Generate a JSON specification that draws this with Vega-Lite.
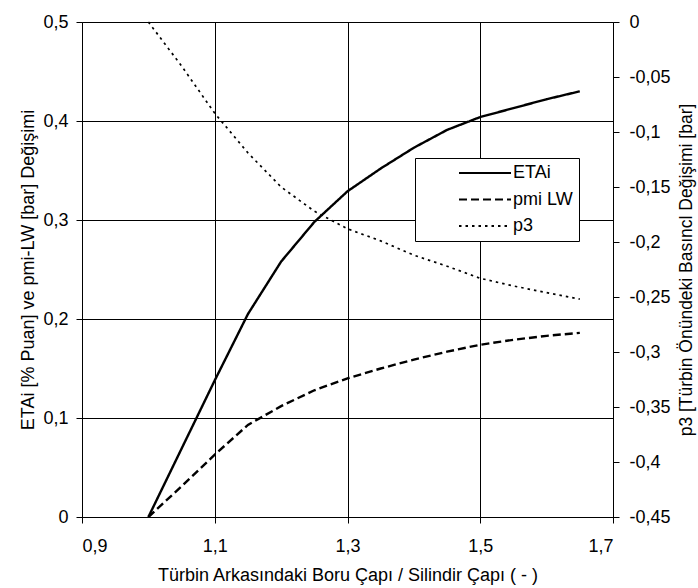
{
  "$schema": "https://vega.github.io/schema/vega-lite/v6.json",
  "width": 531,
  "height": 495,
  "autosize": {"type": "none"},
  "padding": {"left": 82, "top": 22, "right": 85, "bottom": 71},
  "background": "white",
  "config": {
    "view": {"stroke": null},
    "font": "Liberation Sans",
    "axis": {
      "labelFont": "Liberation Sans",
      "labelFontSize": 18,
      "labelColor": "#000",
      "titleFont": "Liberation Sans",
      "titleFontSize": 18,
      "titleFontWeight": "normal",
      "titleColor": "#000",
      "domainColor": "#000",
      "tickColor": "#000",
      "gridColor": "#000",
      "gridOpacity": 1,
      "tickSize": 6,
      "domainWidth": 1,
      "tickWidth": 1,
      "gridWidth": 1
    },
    "legend": {
      "orient": "none",
      "legendX": 333,
      "legendY": 136,
      "strokeColor": "#000",
      "fillColor": "#fff",
      "padding": 6,
      "symbolOffset": 55,
      "labelOffset": 19,
      "rowPadding": 8.5,
      "labelFont": "Liberation Sans",
      "labelFontSize": 18,
      "labelColor": "#000",
      "symbolType": "M-5.2,0H5.2",
      "symbolSize": 100,
      "symbolStrokeColor": "#000",
      "symbolFillColor": "transparent",
      "symbolStrokeWidth": 2.2
    }
  },
  "data": {
    "values": [
      {"x": 1.0, "series": "ETAi", "value": 0},
      {"x": 1.05, "series": "ETAi", "value": 0.069},
      {"x": 1.1, "series": "ETAi", "value": 0.138},
      {"x": 1.15, "series": "ETAi", "value": 0.205},
      {"x": 1.2, "series": "ETAi", "value": 0.258},
      {"x": 1.25, "series": "ETAi", "value": 0.298},
      {"x": 1.3, "series": "ETAi", "value": 0.329},
      {"x": 1.35, "series": "ETAi", "value": 0.352},
      {"x": 1.4, "series": "ETAi", "value": 0.373},
      {"x": 1.45, "series": "ETAi", "value": 0.391},
      {"x": 1.5, "series": "ETAi", "value": 0.404},
      {"x": 1.55, "series": "ETAi", "value": 0.413},
      {"x": 1.6, "series": "ETAi", "value": 0.422},
      {"x": 1.65, "series": "ETAi", "value": 0.43},
      {"x": 1.0, "series": "pmi LW", "value": 0},
      {"x": 1.05, "series": "pmi LW", "value": 0.031},
      {"x": 1.1, "series": "pmi LW", "value": 0.063},
      {"x": 1.15, "series": "pmi LW", "value": 0.093},
      {"x": 1.2, "series": "pmi LW", "value": 0.112},
      {"x": 1.25, "series": "pmi LW", "value": 0.128},
      {"x": 1.3, "series": "pmi LW", "value": 0.14},
      {"x": 1.35, "series": "pmi LW", "value": 0.15},
      {"x": 1.4, "series": "pmi LW", "value": 0.159},
      {"x": 1.45, "series": "pmi LW", "value": 0.167},
      {"x": 1.5, "series": "pmi LW", "value": 0.174},
      {"x": 1.55, "series": "pmi LW", "value": 0.179},
      {"x": 1.6, "series": "pmi LW", "value": 0.183},
      {"x": 1.65, "series": "pmi LW", "value": 0.186},
      {"x": 1.0, "series": "p3", "value": 0},
      {"x": 1.05, "series": "p3", "value": -0.04},
      {"x": 1.1, "series": "p3", "value": -0.083},
      {"x": 1.15, "series": "p3", "value": -0.119},
      {"x": 1.2, "series": "p3", "value": -0.15},
      {"x": 1.25, "series": "p3", "value": -0.172},
      {"x": 1.3, "series": "p3", "value": -0.188},
      {"x": 1.35, "series": "p3", "value": -0.199},
      {"x": 1.4, "series": "p3", "value": -0.212},
      {"x": 1.45, "series": "p3", "value": -0.222},
      {"x": 1.5, "series": "p3", "value": -0.233},
      {"x": 1.55, "series": "p3", "value": -0.24},
      {"x": 1.6, "series": "p3", "value": -0.246},
      {"x": 1.65, "series": "p3", "value": -0.252}
    ]
  },
  "encoding": {
    "x": {
      "field": "x",
      "type": "quantitative",
      "scale": {"domain": [0.9, 1.7], "nice": false, "zero": false},
      "axis": {
        "values": [0.9, 1.1, 1.3, 1.5, 1.7],
        "labelExpr": "replace(toString(datum.value), '.', ',')",
        "title": "Türbin Arkasındaki Boru Çapı / Silindir Çapı ( - )",
        "grid": true,
        "labelPadding": 14,
        "titleX": 265.5,
        "titleY": 58,
        "titleBaseline": "middle",
        "titleAlign": "center"
      }
    },
    "strokeDash": {
      "field": "series",
      "type": "nominal",
      "scale": {
        "domain": ["ETAi", "pmi LW", "p3"],
        "range": [[1, 0], [8, 4], [2.5, 4]]
      },
      "legend": {
        "title": null,
        "labelExpr": "datum.label + '       '"
      }
    }
  },
  "layer": [
    {
      "transform": [{"filter": "datum.series !== 'p3'"}],
      "mark": {"type": "line", "color": "#000", "strokeWidth": 2.4},
      "encoding": {
        "y": {
          "field": "value",
          "type": "quantitative",
          "scale": {"domain": [0, 0.5], "nice": false, "zero": false},
          "axis": {
            "orient": "left",
            "values": [0, 0.1, 0.2, 0.3, 0.4, 0.5],
            "labelExpr": "replace(toString(datum.value), '.', ',')",
            "grid": true,
            "labelPadding": 8,
            "title": "ETAi [% Puan] ve pmi-LW [bar] Değişimi",
            "titleAngle": 270,
            "titleX": -54,
            "titleY": 247.5,
            "titleBaseline": "middle",
            "titleAlign": "center"
          }
        }
      }
    },
    {
      "transform": [{"filter": "datum.series === 'p3'"}],
      "mark": {"type": "line", "color": "#000", "strokeWidth": 1.7},
      "encoding": {
        "y": {
          "field": "value",
          "type": "quantitative",
          "scale": {"domain": [-0.45, 0], "nice": false, "zero": false},
          "axis": {
            "orient": "right",
            "values": [0, -0.05, -0.1, -0.15, -0.2, -0.25, -0.3, -0.35, -0.4, -0.45],
            "labelExpr": "replace(toString(datum.value), '.', ',')",
            "grid": false,
            "labelPadding": 10,
            "title": "p3 [Türbin Önündeki Basıncl Değişimi [bar]",
            "titleFontSize": 17.5,
            "titleAngle": 270,
            "titleX": 73,
            "titleY": 247.5,
            "titleBaseline": "middle",
            "titleAlign": "center"
          }
        }
      }
    }
  ],
  "resolve": {"scale": {"y": "independent"}}
}
